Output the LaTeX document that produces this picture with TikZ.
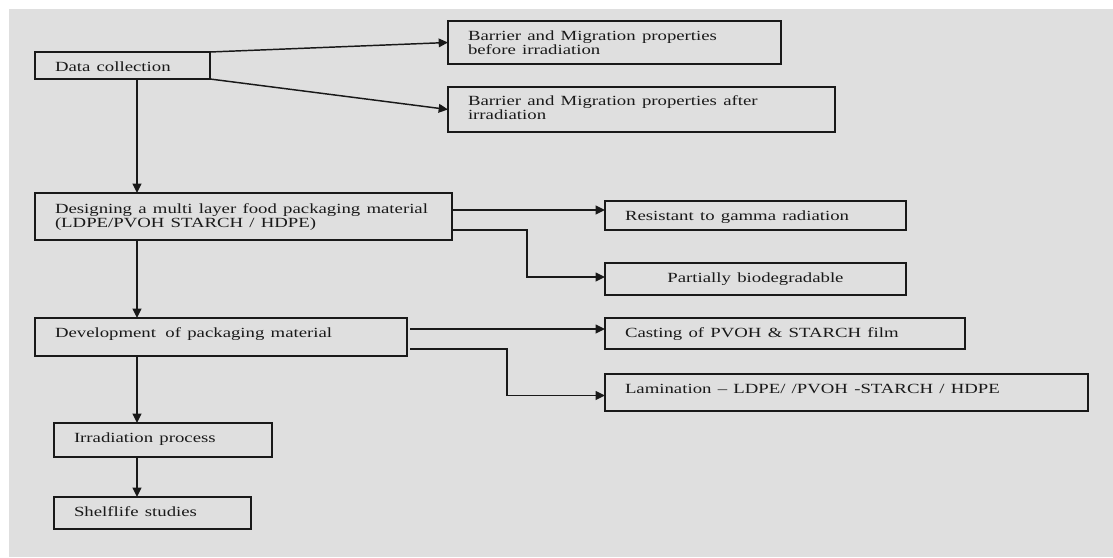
\documentclass[tikz,border=0pt]{standalone}
\usepackage{fontspec}
\usepackage{graphicx}
\setmainfont{Liberation Serif}
\usetikzlibrary{arrows.meta,calc}
\definecolor{bggray}{RGB}{223,223,223}
\definecolor{ink}{RGB}{25,25,25}
\newcommand{\sx}[1]{\scalebox{1.34}[1]{#1}}
\begin{document}
\begin{tikzpicture}[x=0.75pt,y=-0.75pt,
  stepbox/.style={draw=ink,line width=1.5pt,rectangle,anchor=north west,outer sep=0pt,
    inner xsep=15pt,inner ysep=0pt,align=left,text=ink,
    font=\fontsize{10.5pt}{10.5pt}\selectfont,text height=9pt},
  arr/.style={draw=ink,line width=1.1pt,-{Triangle[length=7pt,width=6.5pt]}}]
\useasboundingbox (0,0) rectangle (1113,557);
\fill[bggray] (9,9) rectangle (1113,557);

\node[stepbox,minimum width=131.25pt,minimum height=20.25pt,text width=101.25pt,text depth=0.75pt] (dc) at (35,52) {\sx{Data collection}};
\node[stepbox,minimum width=249.75pt,minimum height=32.25pt,text width=219.75pt,text depth=12.75pt] (bb) at (448,21) {\sx{Barrier and Migration properties}\\\sx{before irradiation}};
\node[stepbox,minimum width=290.25pt,minimum height=33.75pt,text width=260.25pt,text depth=15.75pt] (ba) at (448,87) {\sx{Barrier and Migration properties after}\\\sx{irradiation}};
\node[stepbox,minimum width=312.75pt,minimum height=35.25pt,text width=282.75pt,text depth=14.25pt] (ds) at (35,193) {\sx{Designing a multi layer food packaging material}\\\sx{(LDPE/PVOH STARCH / HDPE)}};
\node[stepbox,minimum width=225.75pt,minimum height=21.75pt,text width=195.75pt,text depth=2.25pt] (res) at (605,201) {\sx{Resistant to gamma radiation}};
\node[stepbox,minimum width=225.75pt,minimum height=24pt,text width=195.75pt,text depth=4.5pt,align=center] (part) at (605,263) {\sx{Partially biodegradable}};
\node[stepbox,minimum width=279pt,minimum height=28.5pt,text width=249pt,text depth=9pt] (dev) at (35,318) {\sx{Development\, of packaging material}};
\node[stepbox,minimum width=270pt,minimum height=23.25pt,text width=240pt,text depth=3.75pt] (cast) at (605,318) {\sx{Casting of PVOH \& STARCH film}};
\node[stepbox,minimum width=362.25pt,minimum height=27.75pt,text width=332.25pt,text depth=8.25pt] (lam) at (605,374) {\sx{Lamination -- LDPE/ /PVOH -STARCH / HDPE}};
\node[stepbox,minimum width=163.5pt,minimum height=25.5pt,text width=133.5pt,text depth=6pt] (irr) at (54,423) {\sx{Irradiation process}};
\node[stepbox,minimum width=147.75pt,minimum height=24pt,text width=117.75pt,text depth=4.5pt] (shelf) at (54,497) {\sx{Shelflife studies}};

\coordinate (sp) at (137,0);
\coordinate (a1) at ($(ds.north east)+(0,17)$);
\coordinate (a2) at ($(ds.south east)+(0,-10)$);
\coordinate (a3) at ($(dev.north east)+(3,11)$);
\coordinate (a4) at ($(dev.south east)+(3,-7)$);
\coordinate (pw) at ($(part.west)+(0,-2)$);
\coordinate (lw) at ($(lam.west)+(0,3)$);

\draw[arr] (dc.north east) -- (bb.west);
\draw[arr] (dc.south east) -- (ba.west);
\draw[arr] (dc.south -| sp) -- (ds.north -| sp);
\draw[arr] (ds.south -| sp) -- (dev.north -| sp);
\draw[arr] (dev.south -| sp) -- (irr.north -| sp);
\draw[arr] (irr.south -| sp) -- (shelf.north -| sp);

\draw[arr] (a1) -- (a1 -| res.west);
\draw[arr] (a2) -- ++(75,0) |- (pw);
\draw[arr] (a3) -- (a3 -| cast.west);
\draw[arr] (a4) -- ++(97,0) |- (lw);
\end{tikzpicture}
\end{document}
